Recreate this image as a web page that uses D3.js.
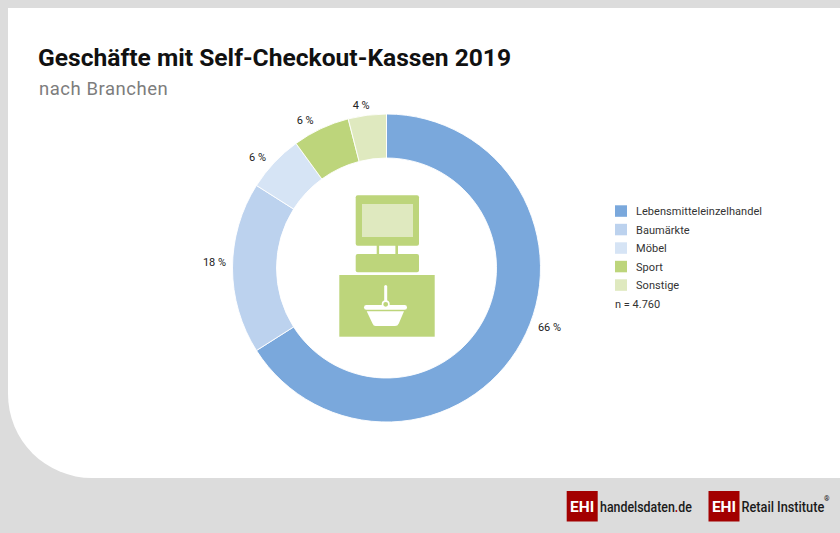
<!DOCTYPE html>
<html><head><meta charset="utf-8">
<script src="https://cdn.jsdelivr.net/npm/d3@7"></script>
<style>html,body{margin:0;padding:0;background:#dcdcdc}svg{display:block}text{font-family:Roboto,sans-serif}</style>
</head><body><svg id="c" width="840" height="533"></svg>
<script>
const categories = ["Lebensmitteleinzelhandel","Baumärkte","Möbel","Sport","Sonstige"];
const shares = [66,18,6,6,4];
const percentLabels = ["66 %","18 %","6 %","6 %","4 %"];
const colours = ["#7aa8dc","#bcd2ee","#d6e4f5","#bdd57b","#dfe9bf"];
const titleText = "Geschäfte mit Self-Checkout-Kassen 2019";
const subtitleText = "nach Branchen";
const sampleText = "n = 4.760";

const svg = d3.select("#c");
const W=840,H=533,px=8,py=8,pb=478,rad=84;
svg.append("rect").attr("width",W).attr("height",H).attr("fill","#dcdcdc");
svg.append("path").attr("fill","#fff")
  .attr("d",`M${px},${py}H${W}V${pb}H${px+rad}A${rad},${rad} 0 0 1 ${px},${pb-rad}Z`);

svg.append("text").attr("x",38).attr("y",66).attr("font-size",24.6).attr("font-weight",700).attr("fill","#111").text(titleText);
svg.append("text").attr("x",39).attr("y",95).attr("font-size",18.5).attr("fill","#7d7d7d").attr("letter-spacing",0.53).text(subtitleText);

// donut
const cx=386.5, cy=268, rOut=154, rIn=110;
const pie=d3.pie().sort(null).value(d=>d);
const arc=d3.arc().innerRadius(rIn).outerRadius(rOut);
const g=svg.append("g").attr("transform",`translate(${cx},${cy})`);
const arcs=pie(shares);
g.selectAll("path").data(arcs).join("path").attr("d",arc)
  .attr("fill",(d,i)=>colours[i]).attr("stroke","#fff").attr("stroke-width",0.9);

// labels: set by hand in the original, so nudged from a ring around the donut
const labelArc=d3.arc().innerRadius(170).outerRadius(170);
const labelNudge=[[14,-22],[-2,-6],[-5,5.5],[-9,6],[-4,6]];
g.selectAll("text").data(arcs).join("text")
  .attr("transform",(d,i)=>{const c=labelArc.centroid(d);return `translate(${c[0]+labelNudge[i][0]},${c[1]+labelNudge[i][1]})`})
  .attr("text-anchor","middle").attr("dominant-baseline","central")
  .attr("font-size",11).attr("fill","#222").text((d,i)=>percentLabels[i]);

// legend
const ly=d3.scalePoint().domain(d3.range(6)).range([211,303.5]);
const leg=svg.append("g");
leg.selectAll("rect").data(categories).join("rect")
  .attr("x",615).attr("y",(d,i)=>ly(i)-5.7).attr("width",12).attr("height",11.5).attr("fill",(d,i)=>colours[i]);
leg.selectAll("text.l").data(categories).join("text").attr("class","l")
  .attr("x",636).attr("y",(d,i)=>ly(i)+4).attr("font-size",11).attr("letter-spacing",0.05).attr("fill","#333").text(d=>d);
leg.append("text").attr("x",615).attr("y",ly(5)+4).attr("font-size",11).attr("fill","#333").text(sampleText);

// icon: checkout terminal with basket
const ic=svg.append("g").attr("fill","#bdd57b");
ic.append("rect").attr("x",355.7).attr("y",195.3).attr("width",63.3).attr("height",50.4).attr("rx",2);
ic.append("rect").attr("x",362).attr("y",204).attr("width",51).attr("height",33).attr("fill","#dfe9bf");
ic.append("rect").attr("x",376.7).attr("y",245).attr("width",2.4).attr("height",10);
ic.append("rect").attr("x",395.4).attr("y",245).attr("width",2.6).attr("height",10);
ic.append("rect").attr("x",355.7).attr("y",254).attr("width",63.3).attr("height",18.3).attr("rx",2);
ic.append("rect").attr("x",339.3).attr("y",275).attr("width",95.4).attr("height",61.7);
const bk=svg.append("g").attr("fill","#fff");
bk.append("rect").attr("x",384.2).attr("y",285).attr("width",3).attr("height",18).attr("rx",1.5);
bk.append("rect").attr("x",364).attr("y",305).attr("width",43).attr("height",4.8).attr("rx",2.4);
bk.append("circle").attr("cx",385.7).attr("cy",304.3).attr("r",3.2).attr("fill","#bdd57b").attr("stroke","#fff").attr("stroke-width",1.6);
bk.append("path").attr("d","M366.7,311.3H404L398.8,323.5Q397.8,326 395,326H375.5Q373.5,326 372.5,323.5Z");

// logos
const red="#a30000";
function logo(x,tx,sx){
  svg.append("rect").attr("x",x).attr("y",491).attr("width",31).attr("height",30.5).attr("fill",red);
  svg.append("text").attr("x",x+15.5).attr("y",512).attr("text-anchor","middle").attr("font-size",15.5).attr("font-weight",700).attr("fill","#fff").text("EHI");
  return svg.append("text").attr("transform",`translate(${tx},511.5) scale(${sx},1)`).attr("font-size",15).attr("font-weight",500).attr("fill","#1a1a1a");
}
const a=logo(566.7,600,0.825);
a.append("tspan").text("handelsdaten");
a.append("tspan").attr("fill",red).text(".");
a.append("tspan").text("de");
logo(708.5,741.5,0.85).text("Retail Institute");
svg.append("text").attr("x",824).attr("y",501).attr("font-size",7).attr("font-weight",700).attr("fill","#222").text("®");
</script></body></html>
